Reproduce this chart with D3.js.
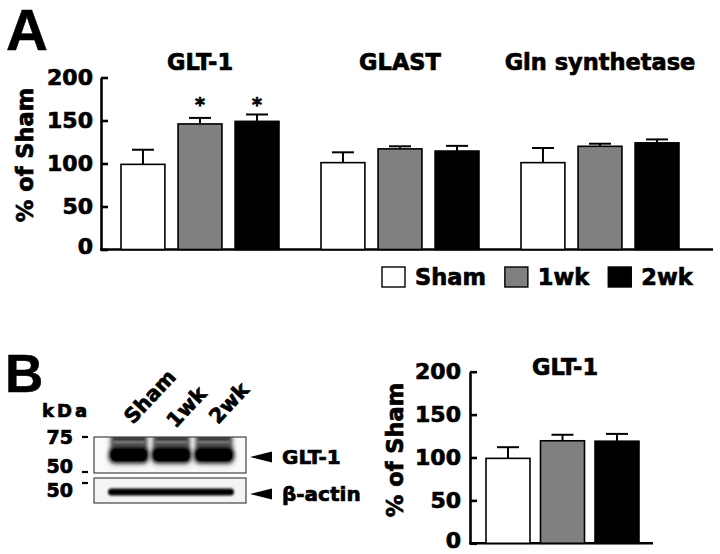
<!DOCTYPE html>
<html><head><meta charset="utf-8">
<script src="https://cdn.jsdelivr.net/npm/d3@7"></script>
<style>
html,body{margin:0;padding:0;background:#fff;}
svg{display:block;}
text{font-family:"DejaVu Sans",sans-serif;font-weight:bold;fill:#000;stroke:#000;stroke-width:0.7px;paint-order:stroke;}
</style></head>
<body>
<svg id="chart" width="720" height="554"></svg>
<script>
// ---------- data ----------
const groupsA = ["GLT-1", "GLAST", "Gln synthetase"];
const conditions = ["Sham", "1wk", "2wk"];
const shamA = [99, 101, 101];
const wk1A = [146, 117, 120];
const wk2A = [149, 114.5, 124];
const shamErrA = [17, 12, 17];
const wk1ErrA = [7, 3, 3];
const wk2ErrA = [8, 6, 4];
const sigA = [["", "*", "*"], ["", "", ""], ["", "", ""]];
const titleB = "GLT-1";
const meansB = [99, 119.5, 119];
const errB = [13, 7, 8.5];
const yTicks = [0, 50, 100, 150, 200];
const yLabel = "% of Sham";
const fills = ["#ffffff", "#808080", "#000000"];
const blotLanes = ["Sham", "1wk", "2wk"];
const markersTop = ["75", "50"];
const markersBottom = ["50"];
const blotTargets = ["GLT-1", "\u03b2-actin"];

const svg = d3.select("#chart");

// ---------- Panel A ----------
const yA = d3.scaleLinear().domain([0, 200]).range([249.5, 77.5]);
const xGroup = d3.scaleBand().domain(groupsA).range([100, 700]);
const xInner = d3.scaleBand().domain(conditions).range([-79, 79]).paddingInner(0.23).paddingOuter(0);

svg.append("text").text("A").attr("x", 6).attr("y", 50)
  .style("font-family", "'Liberation Sans',Arial,sans-serif").style("font-size", "58px").style("stroke-width", "0.5px");

const gA = svg.append("g");
const axA = gA.append("g").attr("transform", "translate(101,0)")
  .call(d3.axisLeft(yA).tickValues(yTicks).tickSizeInner(-7).tickSizeOuter(0).tickPadding(8));
axA.select(".domain").attr("stroke-width", 2.6).attr("stroke", "#000");
axA.selectAll(".tick line").attr("stroke-width", 2.6).attr("stroke", "#000");
axA.selectAll(".tick text").style("font-size", "22px").style("font-family", "'DejaVu Sans',sans-serif").attr("fill", "#000");

gA.append("line").attr("x1", 100).attr("x2", 713).attr("y1", yA(0)).attr("y2", yA(0))
  .attr("stroke", "#000").attr("stroke-width", 2.6);

svg.append("text").text(yLabel).attr("transform", "translate(33,155) rotate(-90)")
  .attr("text-anchor", "middle").style("font-size", "22.5px");

const seriesA = [shamA, wk1A, wk2A];
const errsA = [shamErrA, wk1ErrA, wk2ErrA];
groupsA.forEach((g, gi) => {
  const cx = xGroup(g) + xGroup.bandwidth() / 2;
  gA.append("text").text(g).attr("x", cx).attr("y", 70).attr("text-anchor", "middle").style("font-size", "22.5px");
  let maxTop = 0;
  conditions.forEach((c, ci) => {
    const v = seriesA[ci][gi], e = errsA[ci][gi];
    const x0 = cx + xInner(c), w = xInner.bandwidth();
    const bcx = x0 + w / 2;
    maxTop = Math.max(maxTop, v + e);
    gA.append("line").attr("x1", bcx).attr("x2", bcx).attr("y1", yA(v)).attr("y2", yA(v + e))
      .attr("stroke", "#000").attr("stroke-width", 2);
    gA.append("line").attr("x1", bcx - w / 4).attr("x2", bcx + w / 4).attr("y1", yA(v + e)).attr("y2", yA(v + e))
      .attr("stroke", "#000").attr("stroke-width", 2);
    gA.append("rect").attr("x", x0).attr("y", yA(v)).attr("width", w).attr("height", yA(0) - yA(v))
      .attr("fill", fills[ci]).attr("stroke", "#000").attr("stroke-width", 1.6);
  });
  conditions.forEach((c, ci) => {
    if (sigA[gi][ci]) {
      const bcx = cx + xInner(c) + xInner.bandwidth() / 2;
      gA.append("text").text(sigA[gi][ci]).attr("x", bcx).attr("y", yA(maxTop) - 3)
        .attr("text-anchor", "middle").style("font-size", "19px");
    }
  });
});

// legend
const leg = svg.append("g");
let lx = 382;
conditions.forEach((c, ci) => {
  leg.append("rect").attr("x", lx).attr("y", 267).attr("width", 23).attr("height", 20)
    .attr("fill", fills[ci]).attr("stroke", "#000").attr("stroke-width", 1.4);
  const t = leg.append("text").text(c).attr("x", lx + 33).attr("y", 285).style("font-size", "22.5px");
  lx = lx + 33 + t.node().getComputedTextLength() + 19;
});

// ---------- Panel B: blot ----------
svg.append("text").text("B").attr("x", 5).attr("y", 392)
  .style("font-family", "'Liberation Sans',Arial,sans-serif").style("font-size", "53px").style("stroke-width", "0.5px");

const defs = svg.append("defs");
defs.append("filter").attr("id", "blur2").attr("x", "-20%").attr("y", "-50%").attr("width", "140%").attr("height", "200%")
  .append("feGaussianBlur").attr("stdDeviation", 2.2);
defs.append("filter").attr("id", "blur1").attr("x", "-20%").attr("y", "-80%").attr("width", "140%").attr("height", "260%")
  .append("feGaussianBlur").attr("stdDeviation", 0.8);
defs.append("filter").attr("id", "blur4").attr("x", "-30%").attr("y", "-50%").attr("width", "160%").attr("height", "200%")
  .append("feGaussianBlur").attr("stdDeviation", 3.5);
const clip = defs.append("clipPath").attr("id", "clipTop");
clip.append("rect").attr("x", 94).attr("y", 437).attr("width", 152).attr("height", 36);

const laneX = d3.scaleBand().domain(blotLanes).range([109, 234]).paddingInner(0.06);

svg.append("text").text("kDa").attr("x", 42).attr("y", 417).style("font-size", "18px").style("letter-spacing", "3px");

const blotTop = svg.append("g").attr("clip-path", "url(#clipTop)");
blotTop.append("rect").attr("x", 94).attr("y", 437).attr("width", 152).attr("height", 36).attr("fill", "#fbfbfb");
blotLanes.forEach(l => {
  const x0 = laneX(l), w = laneX.bandwidth();
  blotTop.append("rect").attr("x", x0 + 1).attr("y", 438).attr("width", w - 2).attr("height", 28)
    .attr("fill", "#d6d6d6").attr("filter", "url(#blur4)");
  blotTop.append("rect").attr("x", x0 + 2).attr("y", 433).attr("width", w - 4).attr("height", 22)
    .attr("fill", "#3a3a3a").attr("filter", "url(#blur2)");
  blotTop.append("rect").attr("x", x0 + 4).attr("y", 441).attr("width", w - 8).attr("height", 2.5)
    .attr("fill", "#a8a8a8").attr("opacity", 0.7).attr("filter", "url(#blur1)");
  blotTop.append("rect").attr("x", x0 + 4).attr("y", 445.5).attr("width", w - 8).attr("height", 1.5)
    .attr("fill", "#8a8a8a").attr("opacity", 0.6).attr("filter", "url(#blur1)");
  blotTop.append("rect").attr("x", x0).attr("y", 448).attr("width", w).attr("height", 15).attr("rx", 6)
    .attr("fill", "#000").attr("filter", "url(#blur2)");
  blotTop.append("rect").attr("x", x0 + 2).attr("y", 449).attr("width", w - 4).attr("height", 12).attr("rx", 5)
    .attr("fill", "#000");
});
svg.append("rect").attr("x", 94).attr("y", 437).attr("width", 152).attr("height", 36)
  .attr("fill", "none").attr("stroke", "#444").attr("stroke-width", 1.2);

svg.append("rect").attr("x", 94).attr("y", 478).attr("width", 152).attr("height", 25)
  .attr("fill", "#f4f4f4").attr("stroke", "#444").attr("stroke-width", 1.2);
svg.append("rect").attr("x", laneX(blotLanes[0]) - 1).attr("y", 488.5).attr("width", laneX(blotLanes[2]) + laneX.bandwidth() - laneX(blotLanes[0]) + 1)
  .attr("height", 7).attr("rx", 3.5).attr("fill", "#000").attr("filter", "url(#blur1)");

// lane labels
blotLanes.forEach(l => {
  const cx = laneX(l) + laneX.bandwidth() / 2;
  svg.append("text").text(l).attr("transform", `translate(${cx + 4},${l === "1wk" ? 429 : 425}) rotate(-47)`)
    .style("font-size", "20.5px");
});

// size markers
const markerTopY = [437, 472];
const markerTopBase = [444, 473];
markersTop.forEach((m, i) => {
  const yy = markerTopY[i];
  svg.append("text").text(m).attr("x", 73).attr("y", markerTopBase[i]).attr("text-anchor", "end").style("font-size", "19px");
  svg.append("line").attr("x1", 82).attr("x2", 88).attr("y1", yy).attr("y2", yy).attr("stroke", "#000").attr("stroke-width", 2.2);
});
const markerBotY = [483];
markersBottom.forEach((m, i) => {
  const yy = markerBotY[i];
  svg.append("text").text(m).attr("x", 73).attr("y", 497).attr("text-anchor", "end").style("font-size", "19px");
  svg.append("line").attr("x1", 82).attr("x2", 88).attr("y1", yy).attr("y2", yy).attr("stroke", "#000").attr("stroke-width", 2.2);
});

// arrows + target labels
const targetY = [457, 494];
blotTargets.forEach((t, i) => {
  const yy = targetY[i];
  svg.append("path").attr("d", `M250,${yy} L272,${yy - 5.5} L272,${yy + 5.5} Z`).attr("fill", "#000");
  svg.append("text").text(t).attr("x", 282).attr("y", yy + 7).style("font-size", "20px");
});

// ---------- Panel B: bar chart ----------
const yB = d3.scaleLinear().domain([0, 200]).range([543.3, 371.7]);
const xB = d3.scaleBand().domain(conditions).range([486, 639]).paddingInner(0.193).paddingOuter(0);
const gB = svg.append("g");
const axB = gB.append("g").attr("transform", "translate(470,0)")
  .call(d3.axisLeft(yB).tickValues(yTicks).tickSizeInner(-7).tickSizeOuter(0).tickPadding(9));
axB.select(".domain").attr("stroke-width", 2.6).attr("stroke", "#000");
axB.selectAll(".tick line").attr("stroke-width", 2.6).attr("stroke", "#000");
axB.selectAll(".tick text").style("font-size", "22px").style("font-family", "'DejaVu Sans',sans-serif").attr("fill", "#000");
axB.selectAll(".tick").filter(d => d === 0).select("text").attr("dy", "0.2em");
axA.selectAll(".tick").filter(d => d === 0).select("text").attr("dy", "0.2em");
gB.append("line").attr("x1", 469).attr("x2", 653).attr("y1", yB(0)).attr("y2", yB(0))
  .attr("stroke", "#000").attr("stroke-width", 2.6);
svg.append("text").text(yLabel).attr("transform", "translate(403,450) rotate(-90)")
  .attr("text-anchor", "middle").style("font-size", "22.5px");
svg.append("text").text(titleB).attr("x", 565).attr("y", 375).attr("text-anchor", "middle").style("font-size", "22.5px");

conditions.forEach((c, ci) => {
  const v = meansB[ci], e = errB[ci];
  const x0 = xB(c), w = xB.bandwidth(), bcx = x0 + w / 2;
  gB.append("line").attr("x1", bcx).attr("x2", bcx).attr("y1", yB(v)).attr("y2", yB(v + e))
    .attr("stroke", "#000").attr("stroke-width", 2);
  gB.append("line").attr("x1", bcx - w / 4).attr("x2", bcx + w / 4).attr("y1", yB(v + e)).attr("y2", yB(v + e))
    .attr("stroke", "#000").attr("stroke-width", 2);
  gB.append("rect").attr("x", x0).attr("y", yB(v)).attr("width", w).attr("height", yB(0) - yB(v))
    .attr("fill", fills[ci]).attr("stroke", "#000").attr("stroke-width", 1.6);
});
</script>
</body></html>
